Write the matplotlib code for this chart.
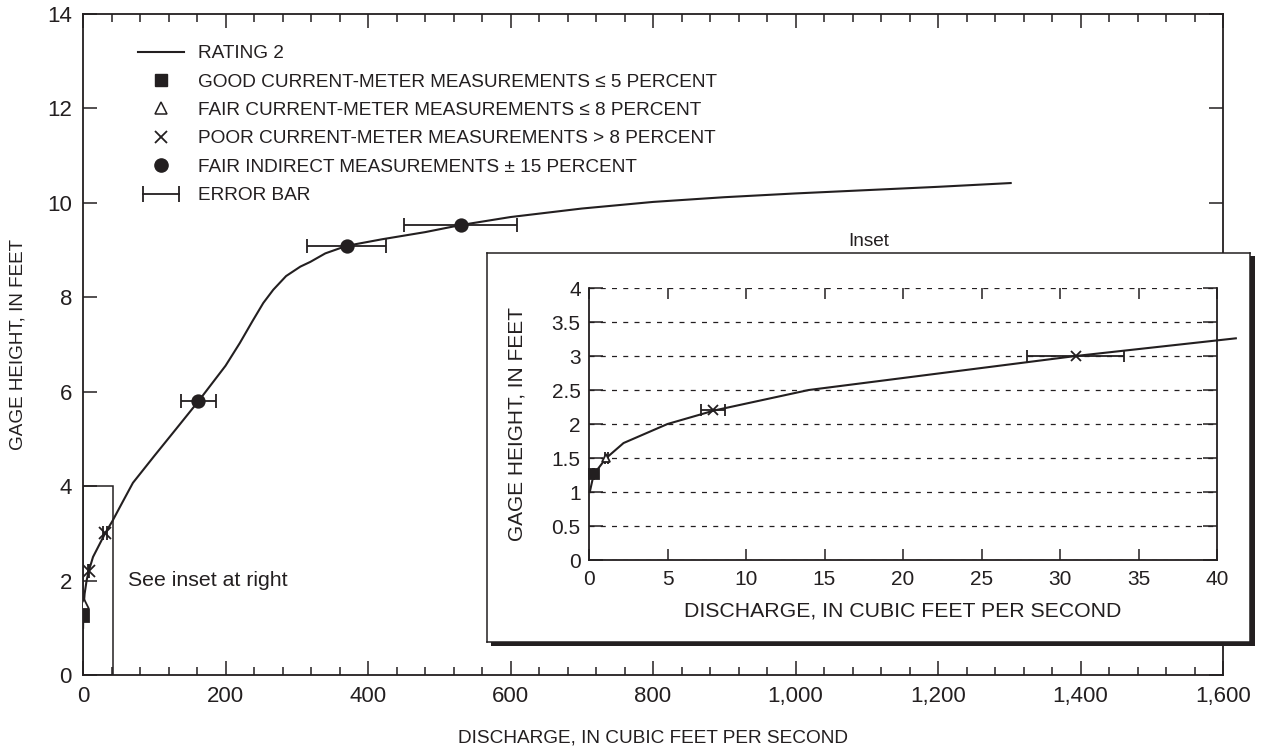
"""Stage-discharge rating with an enlarged low-flow inset."""
import matplotlib
matplotlib.use('Agg')
from matplotlib import pyplot as plt
from matplotlib.lines import Line2D
from matplotlib.legend_handler import HandlerLine2D
from matplotlib.patches import Rectangle
from matplotlib.ticker import MultipleLocator, FuncFormatter

INK = '#231f20'

# rating 2: discharge (cfs) and gage height (ft)
rating_q = [0.05, 0.3, 1.1, 2.2, 5, 8, 14, 31, 41.2, 55, 70, 100, 130, 162, 200, 220,
            238, 253, 267, 285, 305, 319, 340, 370, 420, 480, 530, 600, 700, 800,
            900, 1000, 1100, 1200, 1302]
rating_h = [1.0, 1.26, 1.5, 1.72, 2.0, 2.2, 2.5, 3.0, 3.26, 3.65, 4.07, 4.64, 5.2, 5.8,
            6.55, 7.03, 7.5, 7.88, 8.16, 8.45, 8.65, 8.75, 8.93, 9.09, 9.23, 9.38,
            9.53, 9.7, 9.88, 10.02, 10.12, 10.2, 10.27, 10.34, 10.42]

# measurements and their relative error
good_q, good_h, good_err = [0.3], [1.26], 0.05
fair_q, fair_h, fair_err = [1.1], [1.5], 0.08
poor_q, poor_h, poor_err = [7.9, 31.0], [2.2, 3.0], 0.10
indirect_q, indirect_h, indirect_err = [162, 370, 530], [5.8, 9.09, 9.53], 0.15

main_xticks = [0, 200, 400, 600, 800, 1000, 1200, 1400, 1600]
inset_box_q, inset_box_h = 42, 4

plt.rcParams['font.family'] = ['Liberation Sans', 'DejaVu Sans']
plt.rcParams['font.size'] = 13.7
plt.rcParams['text.color'] = INK
plt.rcParams['axes.labelcolor'] = INK
plt.rcParams['xtick.color'] = INK
plt.rcParams['ytick.color'] = INK


def draw_points(ax, ms, cap, clip=True):
    """Measurements with horizontal error bars."""
    for q, h, err, fmt, size, face in [
            (good_q, good_h, good_err, 's', ms, INK),
            (fair_q, fair_h, fair_err, '^', ms * 0.85, 'white'),
            (poor_q, poor_h, poor_err, 'x', ms * 0.9, INK),
            (indirect_q, indirect_h, indirect_err, 'o', ms, INK)]:
        ax.errorbar(q, h, xerr=[v * err for v in q], fmt=fmt, ms=size, mfc=face,
                    mec=INK, mew=1.3, color=INK, ecolor=INK, elinewidth=1.3,
                    capsize=cap, capthick=1.3, zorder=4, clip_on=clip)


fig = plt.figure(figsize=(12.62, 7.5), dpi=100)

# ---- main axes
ax = fig.add_axes([0.0658, 0.1, 0.9033, 0.8813], zorder=1)
ax.plot(rating_q, rating_h, color=INK, lw=1.5, zorder=3)
draw_points(ax, 9, 5)
ax.add_patch(Rectangle((0, 0), inset_box_q, inset_box_h, fill=False, ec=INK, lw=1.1, zorder=2))
ax.text(63, 2.0, 'See inset at right', va='center', ha='left', fontsize=15.3)

ax.set_xlim(0, 1600)
ax.set_ylim(0, 14)
ax.xaxis.set_minor_locator(MultipleLocator(40))
ax.yaxis.set_major_locator(MultipleLocator(2))
ax.set_xticks(main_xticks)
ax.set_xticklabels(['{:,}'.format(v) for v in main_xticks])
ax.tick_params(which='both', direction='in', top=True, right=True, width=1.1)
ax.tick_params(which='major', length=10, labelsize=16)
ax.tick_params(axis='x', which='major', pad=8)
ax.tick_params(axis='y', which='major', pad=8)
ax.tick_params(which='minor', length=5.5)
for s in ax.spines.values():
    s.set_linewidth(1.3)
    s.set_color(INK)
ax.set_xlabel('DISCHARGE, IN CUBIC FEET PER SECOND', fontsize=13.7, labelpad=16)
ax.set_ylabel('GAGE HEIGHT, IN FEET', fontsize=13.6, labelpad=15)

handles = [
    Line2D([], [], color=INK, lw=1.5),
    Line2D([], [], marker='s', ls='none', color=INK, ms=8.5),
    Line2D([], [], marker='^', ls='none', color=INK, mfc='white', ms=8.5, mew=1.1),
    Line2D([], [], marker='x', ls='none', color=INK, ms=8.5, mew=1.3),
    Line2D([], [], marker='o', ls='none', color=INK, ms=9.5),
]
err_handle = Line2D([], [], color=INK, lw=1.3, marker='|', ms=11, mew=1.3)
handles.append(err_handle)
labels = ['RATING 2',
          'GOOD CURRENT-METER MEASUREMENTS \u2264 5 PERCENT',
          'FAIR CURRENT-METER MEASUREMENTS \u2264 8 PERCENT',
          'POOR CURRENT-METER MEASUREMENTS > 8 PERCENT',
          'FAIR INDIRECT MEASUREMENTS \u00b1 15 PERCENT',
          'ERROR BAR']
ax.legend(handles, labels, loc='upper left', bbox_to_anchor=(0.048, 0.953),
          frameon=False, borderpad=0, borderaxespad=0, handlelength=2.45,
          handletextpad=0.7, labelspacing=0.58, fontsize=13.7,
          handler_map={err_handle: HandlerLine2D(numpoints=2)})

# ---- inset frame with drop shadow
shadow = fig.add_axes([491 / 1262, 1 - 646 / 750, 764 / 1262, 390 / 750], zorder=2)
shadow.set_facecolor(INK)
shadow.set_xticks([])
shadow.set_yticks([])
for s in shadow.spines.values():
    s.set_visible(False)

frame = fig.add_axes([487 / 1262, 1 - 642 / 750, 763 / 1262, 389 / 750], zorder=3)
frame.set_facecolor('white')
frame.set_xticks([])
frame.set_yticks([])
for s in frame.spines.values():
    s.set_linewidth(1.1)
    s.set_color(INK)
fig.text(869 / 1262, 1 - 241 / 750, 'Inset', ha='center', va='center', fontsize=13.7)

# ---- inset axes
ins = fig.add_axes([589 / 1262, 1 - 560 / 750, 628 / 1262, 272 / 750], zorder=4)
n_in = sum(1 for q in rating_q if q <= 41.2)
ins.plot(rating_q[:n_in], rating_h[:n_in], color=INK, lw=1.5, zorder=3, clip_on=False)
draw_points(ins, 7.5, 4.5, clip=False)
ins.set_xlim(0, 40)
ins.set_ylim(0, 4)
ins.xaxis.set_major_locator(MultipleLocator(5))
ins.yaxis.set_major_locator(MultipleLocator(0.5))
ins.yaxis.set_major_formatter(FuncFormatter(lambda v, p: '{:g}'.format(v)))
ins.grid(axis='y', color=INK, lw=0.9, ls=(0, (4, 5)))
ins.tick_params(direction='in', top=True, right=True, width=1.1, labelsize=15)
ins.tick_params(axis='x', length=8, pad=7)
ins.tick_params(axis='y', length=10, pad=6)
ins.spines['top'].set_visible(False)
for s in ['left', 'right', 'bottom']:
    ins.spines[s].set_linewidth(1.3)
    ins.spines[s].set_color(INK)
ins.set_xlabel('DISCHARGE, IN CUBIC FEET PER SECOND', fontsize=15.3, labelpad=9)
ins.set_ylabel('GAGE HEIGHT, IN FEET', fontsize=15, labelpad=18)

fig.savefig('out.png', dpi=100)
